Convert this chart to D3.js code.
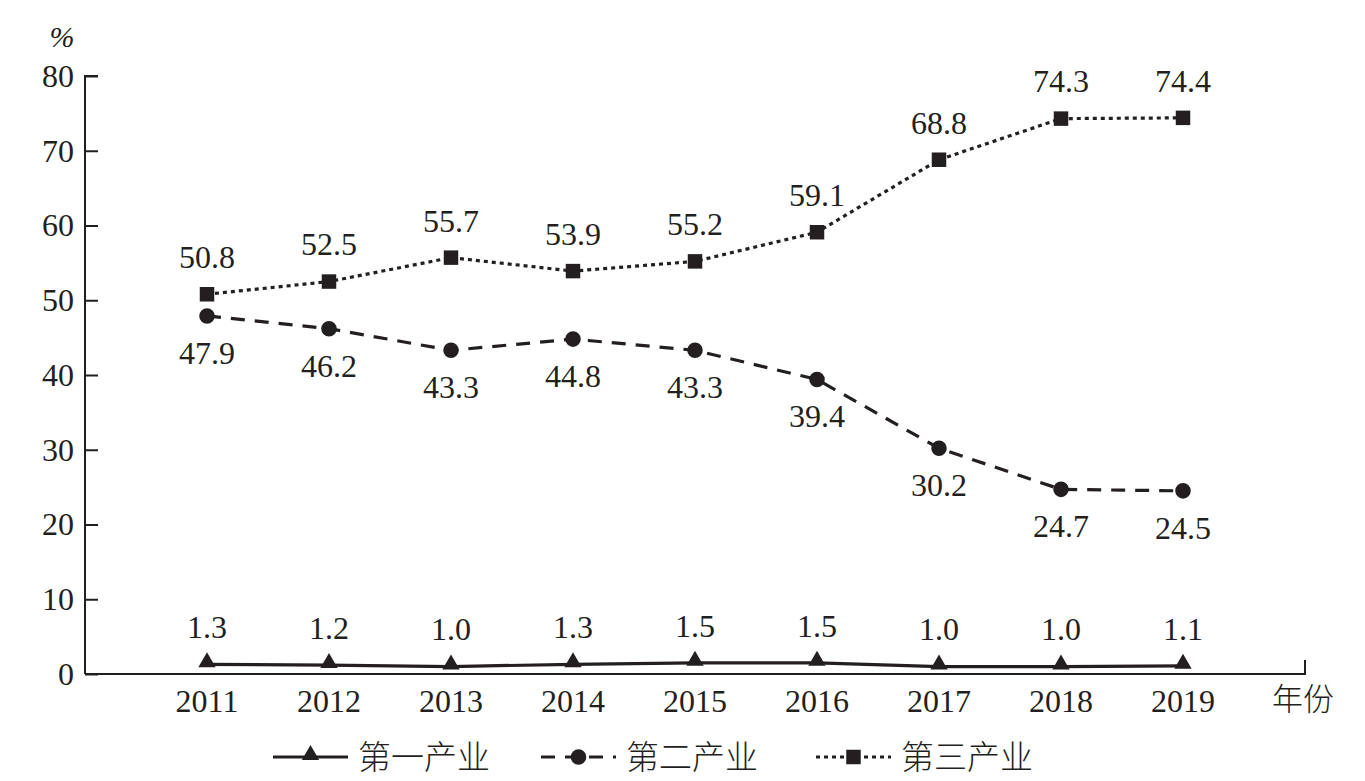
<!DOCTYPE html>
<html lang="zh">
<head>
  <meta charset="UTF-8">
  <script src="https://d3js.org/d3.v7.min.js"></script>
  <style>
    body { margin: 0; background: #fff; }
    svg text.num { font-family: "Liberation Serif", serif; }
    svg text.han { font-family: "Noto Sans CJK SC", sans-serif; font-weight: 300; }
  </style>
</head>
<body>
  <script>
    const years = [2011, 2012, 2013, 2014, 2015, 2016, 2017, 2018, 2019];
    const primary = [1.3, 1.2, 1.0, 1.3, 1.5, 1.5, 1.0, 1.0, 1.1];
    const secondary = [47.9, 46.2, 43.3, 44.8, 43.3, 39.4, 30.2, 24.7, 24.5];
    const tertiary = [50.8, 52.5, 55.7, 53.9, 55.2, 59.1, 68.8, 74.3, 74.4];
    const yTicks = [0, 10, 20, 30, 40, 50, 60, 70, 80];
    const seriesNames = ["第一产业", "第二产业", "第三产业"];

    const width = 1365, height = 781;
    const ink = "#231f20";

    const svg = d3.select("body").append("svg").attr("width", width).attr("height", height);

    const x = d3.scaleLinear().domain([2010, 2020]).range([85, 1305]);
    const y = d3.scaleLinear().domain([0, 80]).range([674, 76]);

    // axes
    const yAxis = svg.append("g").attr("transform", "translate(85,0)")
      .call(d3.axisRight(y).tickValues(yTicks).tickSize(13).tickFormat(""));
    yAxis.select(".domain").attr("d", `M13,${y(80)}H0V${y(0)}`);
    yAxis.selectAll("line, path").attr("stroke", ink).attr("stroke-width", 2);
    svg.selectAll(".ylab").data(yTicks).join("text").attr("class", "num")
      .attr("x", 74).attr("y", d => y(d)).attr("dy", "0.34em")
      .attr("text-anchor", "end").attr("font-size", 32)
      .attr("fill", ink).text(d => d);

    const xAxis = svg.append("g").attr("transform", `translate(0,${y(0)})`)
      .call(d3.axisBottom(x).tickValues([]).tickSizeOuter(0));
    xAxis.select(".domain").attr("d", `M${x(2010)},0H${x(2020)}V-14`)
      .attr("stroke", ink).attr("stroke-width", 2).attr("fill", "none");
    svg.selectAll(".xlab").data(years).join("text").attr("class", "num")
      .attr("x", d => x(d)).attr("y", 712)
      .attr("text-anchor", "middle").attr("font-size", 32)
      .attr("fill", ink).text(d => d);

    svg.append("text").attr("class", "num").attr("x", 62).attr("y", 47).attr("text-anchor", "middle")
      .attr("font-size", 30).attr("font-style", "italic")
      .attr("fill", ink).text("%");
    svg.append("text").attr("class", "han").attr("x", 1272).attr("y", 710)
      .attr("font-size", 31).attr("fill", ink).text("年份");

    const series = [
      { name: seriesNames[0], values: primary, dash: null, marker: "triangle", above: true },
      { name: seriesNames[1], values: secondary, dash: "14,10", marker: "circle", above: false },
      { name: seriesNames[2], values: tertiary, dash: "4,4", marker: "square", above: true }
    ];

    const line = d3.line().x((d, i) => x(years[i])).y(d => y(d));
    const sym = { triangle: d3.symbolTriangle, circle: d3.symbolCircle, square: d3.symbolSquare };
    const symSize = { triangle: 130, circle: 190, square: 210 };

    function marker(g, type, cx, cy) {
      g.append("path")
        .attr("d", d3.symbol().type(sym[type]).size(symSize[type])())
        .attr("transform", `translate(${cx},${type === "triangle" ? cy - 2 : cy})`)
        .attr("fill", ink);
    }

    series.forEach(s => {
      svg.append("path").datum(s.values).attr("d", line)
        .attr("fill", "none").attr("stroke", ink).attr("stroke-width", 3.2)
        .attr("stroke-dasharray", s.dash);
      const g = svg.append("g");
      s.values.forEach((v, i) => marker(g, s.marker, x(years[i]), y(v)));
      svg.selectAll(null).data(s.values).join("text").attr("class", "num")
        .attr("x", (d, i) => x(years[i]))
        .attr("y", d => y(d) + (s.above ? -37 : 37)).attr("dy", "0.34em")
        .attr("text-anchor", "middle").attr("font-size", 32)
        .attr("fill", ink).text(d => d.toFixed(1));
    });

    // legend
    const legendX = [273, 541, 816];
    const legendY = 757;
    series.forEach((s, i) => {
      const g = svg.append("g");
      const x0 = legendX[i], x1 = x0 + 75;
      g.append("line").attr("x1", x0).attr("x2", x1).attr("y1", legendY).attr("y2", legendY)
        .attr("stroke", ink).attr("stroke-width", 3.2).attr("stroke-dasharray", s.dash);
      marker(g, s.marker, (x0 + x1) / 2, legendY);
      g.append("text").attr("class", "han").attr("x", x1 + 10).attr("y", legendY).attr("dy", "0.36em")
        .attr("font-size", 33).attr("fill", ink).text(s.name);
    });
  </script>
</body>
</html>
